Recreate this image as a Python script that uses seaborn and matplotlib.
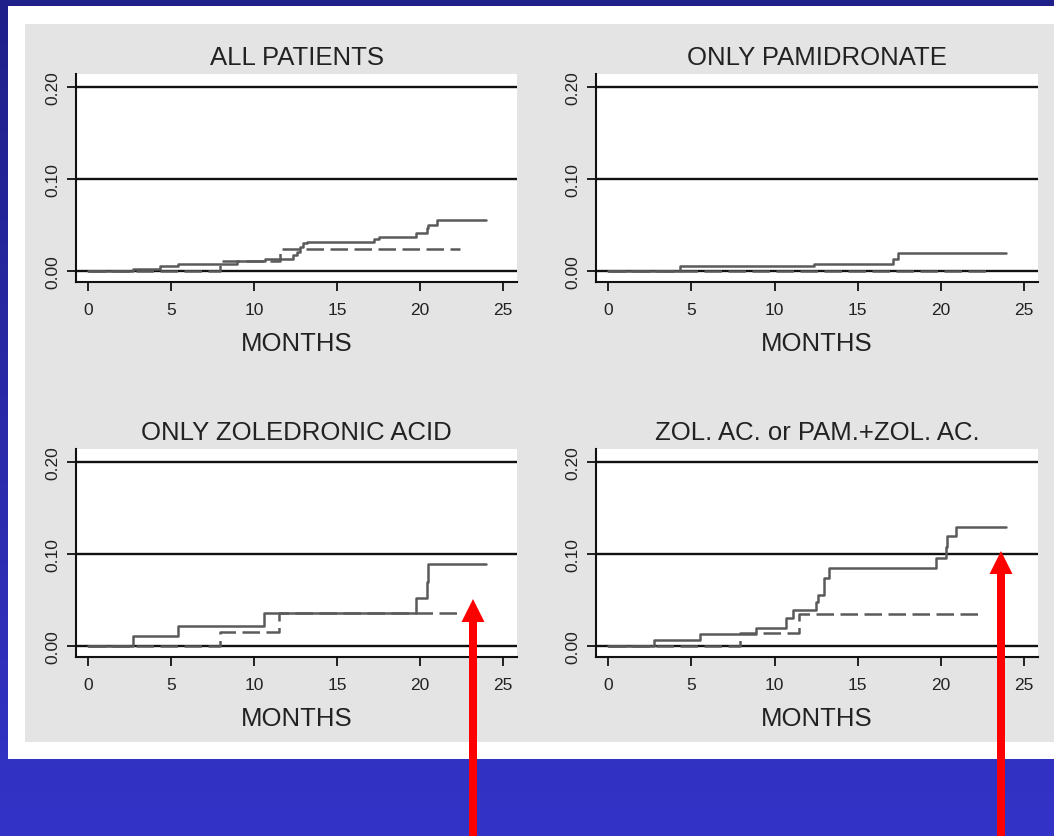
import numpy as np
import pandas as pd
import matplotlib
matplotlib.use("Agg")
import matplotlib.pyplot as plt
from matplotlib.patches import Rectangle, Polygon
import seaborn as sns

# ---------------- data ----------------
titles = ["ALL PATIENTS", "ONLY PAMIDRONATE", "ONLY ZOLEDRONIC ACID", "ZOL. AC. or PAM.+ZOL. AC."]

all_solid_t = [0, 2.7, 4.3, 5.4, 8.95, 10.66, 12.33, 12.57, 12.77, 12.97, 13.2, 17.2, 17.5, 19.76, 20.4, 20.5, 21.0, 24.0]
all_solid_v = [0, 0.002, 0.005, 0.008, 0.0105, 0.0126, 0.017, 0.0205, 0.026, 0.030, 0.0315, 0.035, 0.0375, 0.0415, 0.047, 0.050, 0.055, 0.055]
all_dash_t = [0, 7.95, 11.56, 22.41]
all_dash_v = [0, 0.0105, 0.0240, 0.0240]

pam_solid_t = [0, 4.3, 12.4, 17.1, 17.4, 23.9]
pam_solid_v = [0, 0.005, 0.0072, 0.0134, 0.020, 0.020]
pam_dash_t = [0, 22.7]
pam_dash_v = [0, 0]

zol_solid_t = [0, 2.71, 5.43, 10.6, 19.76, 20.4, 20.5, 24.0]
zol_solid_v = [0, 0.0109, 0.0217, 0.0355, 0.0525, 0.070, 0.0895, 0.0895]
zol_dash_t = [0, 7.94, 11.5, 22.5]
zol_dash_v = [0, 0.0156, 0.0355, 0.0355]

mix_solid_t = [0, 2.74, 5.5, 8.86, 10.7, 11.1, 12.5, 12.6, 12.96, 13.3, 19.7, 20.3, 20.4, 20.9, 23.9]
mix_solid_v = [0, 0.0065, 0.0127, 0.0199, 0.030, 0.039, 0.048, 0.056, 0.0736, 0.0844, 0.0953, 0.108, 0.1196, 0.130, 0.130]
mix_dash_t = [0, 7.9, 11.46, 22.4]
mix_dash_v = [0, 0.0145, 0.0344, 0.0344]

x_ticks = [0, 5, 10, 15, 20, 25]
y_ticks = [0.0, 0.1, 0.2]
y_tick_labels = ["0.00", "0.10", "0.20"]
x_label = "MONTHS"

panels = [
    (all_solid_t, all_solid_v, all_dash_t, all_dash_v),
    (pam_solid_t, pam_solid_v, pam_dash_t, pam_dash_v),
    (zol_solid_t, zol_solid_v, zol_dash_t, zol_dash_v),
    (mix_solid_t, mix_solid_v, mix_dash_t, mix_dash_v),
]

# ---------------- style ----------------
sns.set_style("white")
plt.rcParams["font.family"] = ["Liberation Sans", "DejaVu Sans"]

W, H = 1054, 837
fig = plt.figure(figsize=(W / 100, H / 100), dpi=100)

# background: blue gradient, white frame, grey panel
bg = fig.add_axes([0, 0, 1, 1], zorder=-10)
top = np.array([0x20, 0x20, 0x8A]) / 255
bot = np.array([0x33, 0x33, 0xC8]) / 255
fr = np.linspace(0, 1, 256)[:, None, None]
grad = top[None, None, :] * (1 - fr) + bot[None, None, :] * fr
bg.imshow(grad, extent=[0, W, H, 0], aspect="auto")
bg.add_patch(Rectangle((8, 7), W - 8, 760 - 7, facecolor="white", edgecolor="none"))
bg.add_patch(Rectangle((25, 25), W - 25, 743 - 25, facecolor="#E4E4E4", edgecolor="none"))
bg.set_xlim(0, W)
bg.set_ylim(H, 0)
bg.axis("off")

# axes positions in pixels: (left, top, right, bottom)
boxes = [(76, 75, 517, 283), (596, 75, 1038, 283), (76, 450, 517, 658), (596, 450, 1038, 658)]

curve_color = "#5A5A5A"
for i, ((st, sv, dt, dv), (l, t, r, b)) in enumerate(zip(panels, boxes)):
    ax = fig.add_axes([l / W, 1 - b / H, (r - l) / W, (b - t) / H])
    ax.set_facecolor("white")
    for yv in y_ticks:
        ax.axhline(yv, color="#111111", lw=1.7, zorder=1)
    sdf = pd.DataFrame({"t": st, "v": sv})
    ddf = pd.DataFrame({"t": dt, "v": dv})
    sns.lineplot(data=sdf, x="t", y="v", ax=ax, color=curve_color, lw=1.8,
                 drawstyle="steps-post", estimator=None, sort=False, zorder=2)
    sns.lineplot(data=ddf, x="t", y="v", ax=ax, color=curve_color, lw=1.8,
                 drawstyle="steps-post", estimator=None, sort=False, zorder=3)
    ax.lines[-1].set_dashes([7, 2.6])
    ax.set_xlim(-0.74, 25.85)
    ax.set_ylim(-0.012, 0.2145)
    ax.set_xticks(x_ticks)
    ax.set_xticklabels([str(v) for v in x_ticks])
    ax.set_yticks(y_ticks)
    ax.set_yticklabels(y_tick_labels)
    ax.tick_params(axis="both", direction="out", length=6.5, width=1.3, color="#111111",
                   labelsize=12.5, labelcolor="#222222")
    ax.tick_params(axis="x", pad=8, bottom=True)
    ax.tick_params(axis="y", pad=5, left=True)
    plt.setp(ax.get_yticklabels(), rotation=90, va="center", ha="right")
    for s in ["top", "right"]:
        ax.spines[s].set_visible(False)
    for s in ["left", "bottom"]:
        ax.spines[s].set_linewidth(1.5)
        ax.spines[s].set_color("#111111")
    ax.set_xlabel(x_label, fontsize=18.5, color="#222222", labelpad=10)
    ax.set_ylabel("")
    ax.set_title(titles[i], fontsize=18.5, color="#222222", pad=7)

# red arrows overlay
ov = fig.add_axes([0, 0, 1, 1], zorder=20)
ov.set_xlim(0, W)
ov.set_ylim(H, 0)
ov.axis("off")
ov.patch.set_alpha(0)
for (x, tip, base) in [(473, 600, 623), (1001, 552, 575)]:
    pts = [(x, tip), (x + 11.5, base), (x + 4, base), (x + 4, H + 5),
           (x - 4, H + 5), (x - 4, base), (x - 11.5, base)]
    ov.add_patch(Polygon(pts, closed=True, facecolor="#FF0000", edgecolor="none"))

fig.savefig("out.png", dpi=100)
